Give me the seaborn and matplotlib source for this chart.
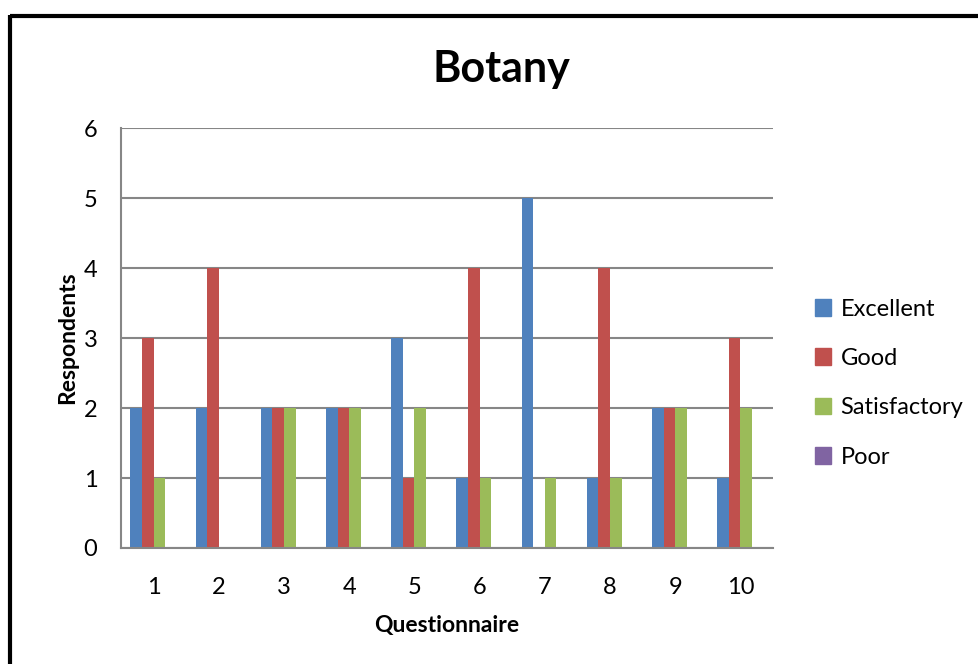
import pandas as pd
import matplotlib.pyplot as plt
import seaborn as sns
from matplotlib.lines import Line2D

# Chart data
questions = ["1", "2", "3", "4", "5", "6", "7", "8", "9", "10"]
ratings = ["Excellent", "Good", "Satisfactory", "Poor"]
excellent = [2, 2, 2, 2, 3, 1, 5, 1, 2, 1]
good = [3, 4, 2, 2, 1, 4, 0, 4, 2, 3]
satisfactory = [1, 0, 2, 2, 2, 1, 1, 1, 2, 2]
poor = [0, 0, 0, 0, 0, 0, 0, 0, 0, 0]
colors = ["#4F81BD", "#C0504D", "#9BBB59", "#8064A2"]

# Long-form table for seaborn
rows = []
for rating, values in zip(ratings, [excellent, good, satisfactory, poor]):
    for q, v in zip(questions, values):
        rows.append({"Questionnaire": q, "Rating": rating, "Respondents": v})
df = pd.DataFrame(rows)

sns.set_style("white")
plt.rcParams["font.family"] = ["Lato", "DejaVu Sans"]
plt.rcParams["text.color"] = "black"
plt.rcParams["axes.labelcolor"] = "black"
plt.rcParams["xtick.color"] = "black"
plt.rcParams["ytick.color"] = "black"

fig = plt.figure(figsize=(9.79, 6.64), dpi=100)
ax = fig.add_axes([0.1236, 0.1747, 0.666, 0.6325])

sns.barplot(
    data=df, x="Questionnaire", y="Respondents", hue="Rating",
    order=questions, hue_order=ratings, palette=colors,
    width=0.71, gap=0, saturation=1, linewidth=0, legend=False, ax=ax,
)

ax.set_ylim(0, 6)
ax.set_yticks(range(0, 7))
ax.set_xlim(-0.5, len(questions) - 0.5)
grid_color = "#868686"
ax.yaxis.grid(True, color=grid_color, linewidth=1.5)
ax.set_axisbelow(True)
for side in ["top", "right"]:
    ax.spines[side].set_visible(False)
for side in ["left", "bottom"]:
    ax.spines[side].set_color(grid_color)
    ax.spines[side].set_linewidth(1.5)
ax.tick_params(axis="y", length=6, width=1.5, color=grid_color, labelsize=17, pad=11)
ax.tick_params(axis="x", length=0, labelsize=17, pad=21)

fig.text(0.512, 0.896, "Botany", fontsize=31, fontweight="bold", ha="center", va="center")
ax.set_xlabel("Questionnaire", fontsize=16.5, fontweight="bold", labelpad=12)
ax.set_ylabel("Respondents", fontsize=16.5, fontweight="bold", labelpad=4)

handles = [plt.Rectangle((0, 0), 1, 1, color=c) for c in colors]
fig.legend(
    handles, ratings, loc="center left", bbox_to_anchor=(0.832, 0.423),
    frameon=False, fontsize=17, handlelength=0.7, handleheight=0.7,
    handletextpad=0.4, labelspacing=1.2, borderaxespad=0, borderpad=0,
)

# Thick black frame at top and left, as in the reference picture
fig.add_artist(Line2D([0.0102, 1.0], [0.976, 0.976], color="black", linewidth=3,
                      transform=fig.transFigure, solid_capstyle="butt"))
fig.add_artist(Line2D([0.0102, 0.0102], [0.978, 0.0], color="black", linewidth=3,
                      transform=fig.transFigure, solid_capstyle="butt"))

fig.savefig("out.png", dpi=100)
